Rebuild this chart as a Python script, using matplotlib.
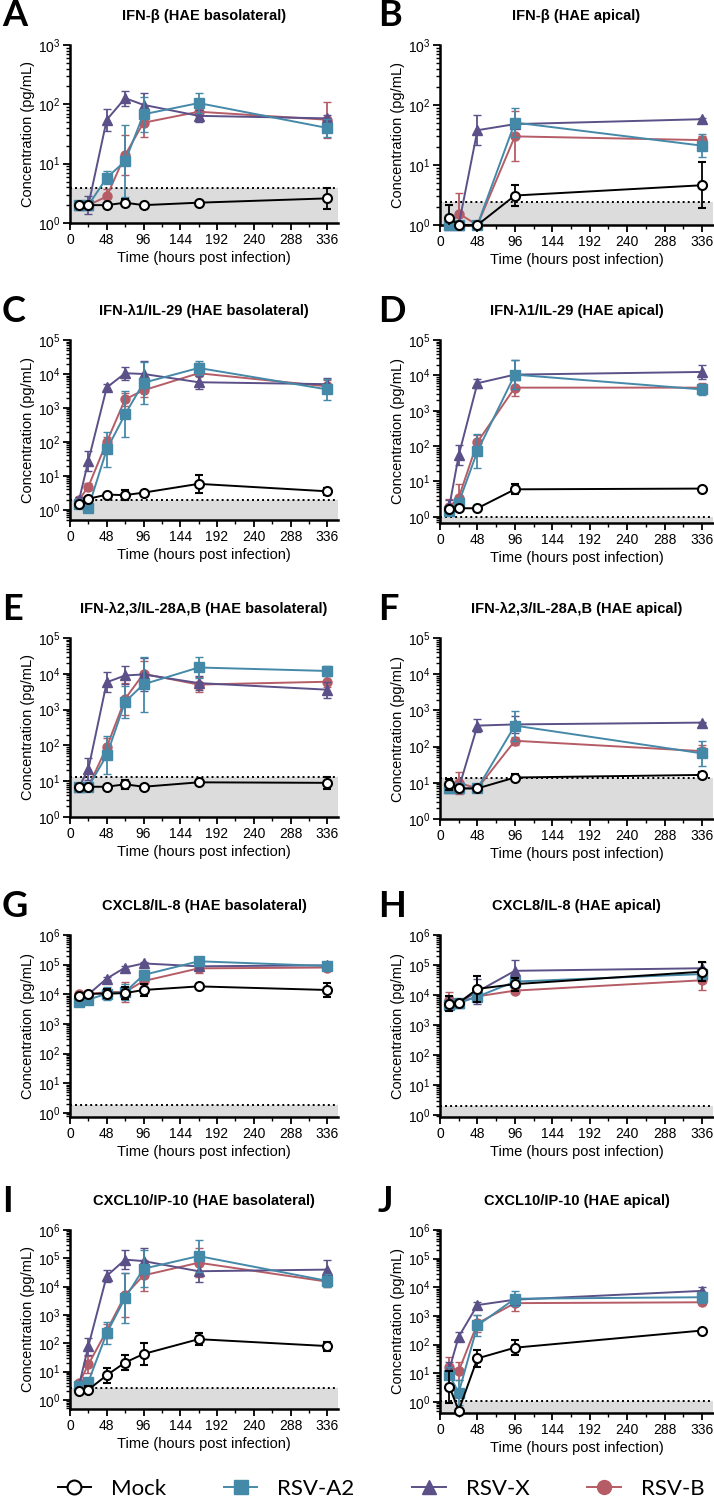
import numpy as np
import matplotlib
matplotlib.use('Agg')
import matplotlib.pyplot as plt
from matplotlib.lines import Line2D
from matplotlib.ticker import FixedLocator, LogLocator, NullFormatter

plt.rcParams['font.family'] = ['Liberation Sans', 'DejaVu Sans']

# sampling times (hours post infection)
t_baso = [12, 24, 48, 72, 96, 168, 336]
t_api = [12, 24, 48, 96, 336]

# A: IFN-b basolateral  (mean, upper error = mean + err)
A_mock = [2.0, 2.0, 2.0, 2.2, 2.0, 2.2, 2.6]
A_mock_sd = [0.1, 0.1, 0.2, 0.3, 0.1, 0.1, 1.3]
A_a2 = [2.0, 2.0, 5.8, 11, 68, 105, 40]
A_a2_sd = [0.1, 0.2, 1.6, 33, 65, 50, 17]
A_x = [2.0, 2.0, 55, 127, 98, 64, 58]
A_x_sd = [0.1, 0.8, 30, 43, 60, 16, 8]
A_b = [2.0, 2.0, 2.8, 14, 49, 75, 55]
A_b_sd = [0.1, 0.1, 1.0, 16, 37, 15, 55]

# B: IFN-b apical
B_mock = [1.3, 1.0, 1.0, 3.1, 4.6]
B_mock_sd = [0.85, 0, 0, 1.5, 6.5]
B_a2 = [1.0, 1.0, 1.0, 51, 21]
B_a2_sd = [0, 0, 0, 38, 12]
B_x = [1.0, 1.0, 38, 48, 58]
B_x_sd = [0, 0, 30, 5, 3]
B_b = [1.0, 1.55, 1.0, 30, 26]
B_b_sd = [0, 1.8, 0, 48, 5]

# C: IFN-l1/IL-29 basolateral
C_mock = [1.45, 2.1, 2.8, 2.7, 3.2, 5.8, 3.5]
C_mock_sd = [0.3, 0.2, 0.2, 1.1, 0.2, 5, 1.0]
C_a2 = [1.5, 1.15, 60, 650, 5500, 15000, 3500]
C_a2_sd = [0.3, 0.1, 140, 2400, 17000, 9000, 3500]
C_x = [2.0, 28, 4000, 10500, 10000, 5700, 5000]
C_x_sd = [0.4, 27, 1200, 6000, 14000, 3300, 2700]
C_b = [2.0, 4.8, 100, 1800, 3300, 10500, 4300]
C_b_sd = [0.3, 1.4, 40, 1000, 2000, 11000, 2200]

# D: IFN-l1/IL-29 apical
D_mock = [1.7, 1.75, 1.75, 6.0, 6.3]
D_mock_sd = [0.2, 0.2, 0.3, 2.4, 0.3]
D_a2 = [1.5, 2.5, 72, 10500, 4000]
D_a2_sd = [0.3, 1.0, 150, 16000, 1800]
D_x = [2.0, 55, 6000, 10500, 12500]
D_x_sd = [1.0, 50, 2000, 16000, 7500]
D_b = [1.9, 3.5, 130, 4500, 4500]
D_b_sd = [1.4, 5.0, 70, 3500, 1500]

# E: IFN-l2,3/IL-28A,B basolateral
E_mock = [7, 7, 7, 8.2, 7, 9.3, 9]
E_mock_sd = [0.3, 0.3, 0.3, 2.8, 0.3, 1.8, 4]
E_a2 = [7, 7, 53, 1650, 5100, 15000, 12000]
E_a2_sd = [0.5, 0.5, 127, 2900, 25000, 15000, 5000]
E_x = [7, 22, 5800, 9000, 9600, 5500, 3600]
E_x_sd = [0.5, 23, 5200, 7000, 18000, 3000, 2400]
E_b = [7, 7, 90, 2000, 10000, 5000, 6000]
E_b_sd = [0.5, 0.5, 70, 3500, 13000, 3000, 2500]

# F: IFN-l2,3/IL-28A,B apical
F_mock = [9, 7, 7, 14, 16.5]
F_mock_sd = [4, 0.3, 0.3, 3, 3.5]
F_a2 = [7, 7, 7, 380, 65]
F_a2_sd = [1, 0.5, 0.5, 600, 80]
F_x = [7, 7, 380, 410, 460]
F_x_sd = [0.5, 0.5, 200, 300, 20]
F_b = [7, 10, 7, 145, 75]
F_b_sd = [0.5, 10, 0.5, 40, 35]

# G: CXCL8/IL-8 basolateral
G_mock = [9000, 10500, 10500, 11000, 14000, 18500, 14000]
G_mock_sd = [1500, 1500, 4500, 6000, 8000, 1500, 11000]
G_a2 = [5700, 6600, 10500, 12000, 45000, 130000, 90000]
G_a2_sd = [800, 800, 6500, 10000, 19000, 20000, 30000]
G_x = [9000, 10000, 34000, 80000, 110000, 88000, 95000]
G_x_sd = [1000, 1000, 3000, 8000, 10000, 8000, 10000]
G_b = [10000, 10000, 12000, 12000, 28000, 75000, 80000]
G_b_sd = [1500, 1500, 3000, 14000, 5000, 35000, 15000]

# H: CXCL8/IL-8 apical
H_mock = [5200, 5500, 16000, 23000, 60000]
H_mock_sd = [4300, 500, 28000, 15000, 65000]
H_a2 = [4800, 5500, 8800, 28000, 50000]
H_a2_sd = [2000, 500, 2000, 8000, 10000]
H_x = [6000, 5500, 13000, 64000, 78000]
H_x_sd = [3500, 500, 21000, 86000, 52000]
H_b = [7000, 5500, 9000, 14000, 31000]
H_b_sd = [6000, 500, 2000, 2000, 33000]

# I: CXCL10/IP-10 basolateral
I_mock = [2.0, 2.3, 7.5, 21, 42, 140, 80]
I_mock_sd = [0.3, 0.8, 6.5, 18, 58, 90, 35]
I_a2 = [3, 4.4, 230, 4000, 43000, 120000, 16000]
I_a2_sd = [0.4, 1.4, 350, 26000, 150000, 330000, 11000]
I_x = [3.5, 80, 24000, 90000, 80000, 35000, 40000]
I_x_sd = [0.5, 80, 16000, 110000, 150000, 50000, 45000]
I_b = [4, 18, 280, 5000, 25000, 70000, 15000]
I_b_sd = [0.8, 17, 220, 25000, 65000, 160000, 8000]

# J: CXCL10/IP-10 apical
J_mock = [3.4, 0.5, 33, 78, 310]
J_mock_sd = [8.8, 0, 32, 67, 10]
J_a2 = [8.6, 2.1, 465, 4000, 4500]
J_a2_sd = [8.4, 3.6, 635, 3200, 2500]
J_x = [14, 190, 2400, 3700, 7500]
J_x_sd = [10, 90, 600, 1700, 2500]
J_b = [17, 12, 550, 2800, 3000]
J_b_sd = [21, 13, 550, 2600, 500]

titles = ['IFN-β (HAE basolateral)', 'IFN-β (HAE apical)',
          'IFN-λ1/IL-29 (HAE basolateral)', 'IFN-λ1/IL-29 (HAE apical)',
          'IFN-λ2,3/IL-28A,B (HAE basolateral)', 'IFN-λ2,3/IL-28A,B (HAE apical)',
          'CXCL8/IL-8 (HAE basolateral)', 'CXCL8/IL-8 (HAE apical)',
          'CXCL10/IP-10 (HAE basolateral)', 'CXCL10/IP-10 (HAE apical)']
letters = list('ABCDEFGHIJ')
lods = [3.9, 2.4, 1.9, 1.0, 13, 13.5, 1.9, 2.0, 2.7, 1.1]
ylims = [(1, 1e3), (1, 1e3), (0.5, 1e5), (0.67, 1e5), (1, 1e5), (1, 1e5),
         (0.73, 1e6), (0.86, 1e6), (0.48, 1e6), (0.41, 1e6)]

names = ['Mock', 'RSV-A2', 'RSV-X', 'RSV-B']
colors = {'Mock': 'black', 'RSV-A2': '#4589a8', 'RSV-X': '#5b5087', 'RSV-B': '#b65c66'}
markers = {'Mock': 'o', 'RSV-A2': 's', 'RSV-X': '^', 'RSV-B': 'o'}

panels = [
    (t_baso, [(A_mock, A_mock_sd), (A_a2, A_a2_sd), (A_x, A_x_sd), (A_b, A_b_sd)]),
    (t_api, [(B_mock, B_mock_sd), (B_a2, B_a2_sd), (B_x, B_x_sd), (B_b, B_b_sd)]),
    (t_baso, [(C_mock, C_mock_sd), (C_a2, C_a2_sd), (C_x, C_x_sd), (C_b, C_b_sd)]),
    (t_api, [(D_mock, D_mock_sd), (D_a2, D_a2_sd), (D_x, D_x_sd), (D_b, D_b_sd)]),
    (t_baso, [(E_mock, E_mock_sd), (E_a2, E_a2_sd), (E_x, E_x_sd), (E_b, E_b_sd)]),
    (t_api, [(F_mock, F_mock_sd), (F_a2, F_a2_sd), (F_x, F_x_sd), (F_b, F_b_sd)]),
    (t_baso, [(G_mock, G_mock_sd), (G_a2, G_a2_sd), (G_x, G_x_sd), (G_b, G_b_sd)]),
    (t_api, [(H_mock, H_mock_sd), (H_a2, H_a2_sd), (H_x, H_x_sd), (H_b, H_b_sd)]),
    (t_baso, [(I_mock, I_mock_sd), (I_a2, I_a2_sd), (I_x, I_x_sd), (I_b, I_b_sd)]),
    (t_api, [(J_mock, J_mock_sd), (J_a2, J_a2_sd), (J_x, J_x_sd), (J_b, J_b_sd)]),
]

W, H = 714, 1499
fig = plt.figure(figsize=(W / 100, H / 100), dpi=100)

# pixel boxes of the axes: (left, right, top, bottom)
cols = [(70, 338), (440, 713)]
rows = [(45, 223, 225), (340, 520, 523), (638, 817, 819), (935, 1117, 1117), (1230, 1409, 1413)]

for k in range(10):
    r, c = divmod(k, 2)
    x0, x1 = cols[c]
    top = rows[r][0]
    bot = rows[r][1 + c]
    ax = fig.add_axes([x0 / W, 1 - bot / H, (x1 - x0) / W, (bot - top) / H])
    t, series = panels[k]
    ylo, yhi = ylims[k]

    ax.axhspan(ylo * 0.5, lods[k], color='#dcdcdc', lw=0, zorder=0)
    ax.axhline(lods[k], color='black', ls=(0, (1, 1.6)), lw=1.4, zorder=1)

    # draw order: RSV-B, RSV-X, RSV-A2, Mock on top
    for z, i in enumerate([3, 2, 1, 0]):
        name = names[i]
        mean = np.array(series[i][0], dtype=float)
        hi = mean + np.array(series[i][1], dtype=float)
        lo = mean * mean / hi          # bars look symmetric on the log axis
        col = colors[name]
        eb = ax.errorbar(t, mean, yerr=[mean - lo, hi - mean], color=col, marker=markers[name],
                         ms=6.5, mfc='white' if name == 'Mock' else col, mec=col,
                         mew=1.5 if name == 'Mock' else 1.0, lw=1.4, elinewidth=1.3,
                         capsize=3, capthick=1.3, zorder=3 + z)
        eb[0].set_clip_on(False)

    ax.set_yscale('log')
    ax.set_ylim(ylo, yhi)
    ax.set_xlim(0, 350)
    ax.xaxis.set_major_locator(FixedLocator(range(0, 337, 48)))
    ax.xaxis.set_minor_locator(FixedLocator(range(24, 337, 48)))
    ax.yaxis.set_major_locator(LogLocator(base=10, numticks=10))
    ax.yaxis.set_minor_locator(LogLocator(base=10, subs=np.arange(2, 10), numticks=20))
    ax.yaxis.set_minor_formatter(NullFormatter())
    for s in ['top', 'right']:
        ax.spines[s].set_visible(False)
    for s in ['left', 'bottom']:
        ax.spines[s].set_linewidth(1.8)
    ax.tick_params(which='major', length=5, width=1.3, labelsize=10, direction='out', pad=2)
    ax.tick_params(which='minor', length=3, width=1.0, direction='out')
    ax.set_xlabel('Time (hours post infection)', fontsize=10.5, labelpad=3)
    ax.set_ylabel('Concentration (pg/mL)', fontsize=10.5, labelpad=2)

    ty = 1 - (top - 29) / H
    fig.text((x0 + x1) / 2 / W, ty, titles[k], ha='center', va='center',
             fontsize=10.5, fontweight='bold')
    fig.text((2 if c == 0 else 378) / W, ty, letters[k], ha='left', va='center',
             fontsize=26, fontweight='bold', family=['Lato', 'DejaVu Sans'])

handles = [Line2D([], [], color=colors[n], marker=markers[n], ms=10,
                  mfc='white' if n == 'Mock' else colors[n], mec=colors[n],
                  mew=1.5 if n == 'Mock' else 1.0, lw=1.4) for n in names]
fig.legend(handles, names, loc='center', bbox_to_anchor=(381 / W, 1 - 1489 / H), ncol=4,
           frameon=False, handlelength=1.5, handletextpad=0.9, columnspacing=2.6,
           prop={'family': ['Lato', 'DejaVu Sans'], 'size': 16}, borderpad=0)

fig.savefig('out.png', dpi=100)
